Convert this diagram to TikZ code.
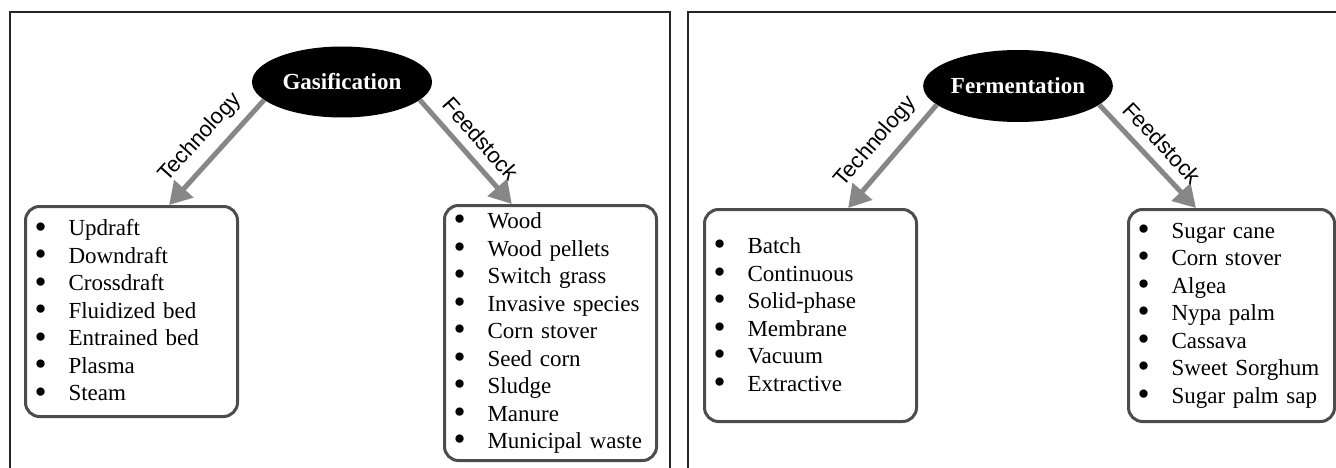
\documentclass[tikz,border=0pt]{standalone}
\usepackage{fontspec}
\setmainfont{Liberation Serif}
\newfontfamily\labelfont{Liberation Sans}
\usetikzlibrary{arrows.meta,calc,shapes.geometric}
\newcommand\bitem[1]{\makebox[34pt][l]{\raisebox{-0.1em}{\scalebox{1.5}{\textbullet}}}#1}
\begin{document}
\begin{tikzpicture}[x=1pt,y=-1pt,
  frame/.style={line width=2.2pt, draw=black!85},
  hub/.style={ellipse, fill=black, inner sep=0pt, text=white, font=\fontsize{23}{27}\selectfont\bfseries},
  listbox/.style={draw=black!70, line width=3pt, rounded corners=14pt, anchor=north west, inner xsep=9pt, inner ysep=0pt, align=left, font=\fontsize{23}{27.5}\selectfont},
  branch/.style={draw=black!47, line width=5pt, -{Triangle[length=22pt,width=25pt]}},
  branchlabel/.style={font=\labelfont\fontsize{22}{26}\selectfont, sloped, above=6pt, midway}
]
\useasboundingbox (0,0) rectangle (1336,468);
% panel frames
\draw[frame] (10,470) -- (10,12) -- (670,12) -- (670,470);
\draw[frame] (688,470) -- (688,12) -- (1340,12);

% ---------- Gasification ----------
\node[hub, minimum width=180pt, minimum height=71pt] (gas) at (342,82) {Gasification};
\node[listbox, minimum width=212pt, minimum height=210pt, text width=194pt] (gtech) at (24,205)
  {\bitem{Updraft}\\\bitem{Downdraft}\\\bitem{Crossdraft}\\\bitem{Fluidized bed}\\\bitem{Entrained bed}\\\bitem{Plasma}\\\bitem{Steam}};
\node[listbox, minimum width=212pt, minimum height=255pt, text width=194pt] (gfeed) at (443,204)
  {\bitem{Wood}\\\bitem{Wood pellets}\\\bitem{Switch grass}\\\bitem{Invasive species}\\\bitem{Corn stover}\\\bitem{Seed corn}\\\bitem{Sludge}\\\bitem{Manure}\\\bitem{Municipal waste}};
\draw[branch] (gas.-167) -- ($(gtech.north west)!0.675!(gtech.north east)$) node[branchlabel]{Technology};
\draw[branch] (gas.-13) -- ($(gfeed.north west)!0.32!(gfeed.north east)$) node[branchlabel]{Feedstock};

% ---------- Fermentation ----------
\node[hub, minimum width=176pt, minimum height=72pt] (fer) at (1018,86) {Fermentation};
\node[listbox, minimum width=212pt, minimum height=212pt, text width=194pt] (ftech) at (703,208)
  {\bitem{Batch}\\\bitem{Continuous}\\\bitem{Solid-phase}\\\bitem{Membrane}\\\bitem{Vacuum}\\\bitem{Extractive}};
\node[listbox, minimum width=206pt, minimum height=212pt, text width=188pt] (ffeed) at (1127,208)
  {\bitem{Sugar cane}\\\bitem{Corn stover}\\\bitem{Algea}\\\bitem{Nypa palm}\\\bitem{Cassava}\\\bitem{Sweet Sorghum}\\\bitem{Sugar palm sap}};
\draw[branch] (fer.-167) -- ($(ftech.north west)!0.675!(ftech.north east)$) node[branchlabel]{Technology};
\draw[branch] (fer.-13) -- ($(ffeed.north west)!0.33!(ffeed.north east)$) node[branchlabel]{Feedstock};
\end{tikzpicture}
\end{document}
